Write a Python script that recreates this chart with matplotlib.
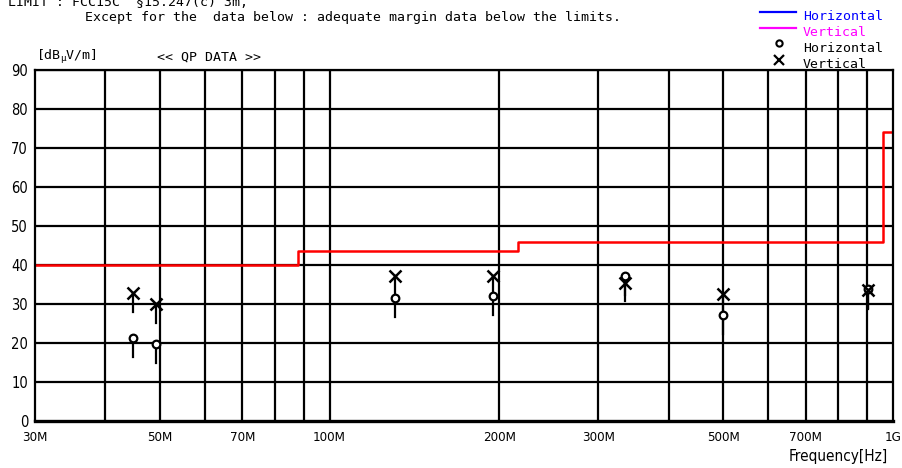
import numpy as np
import matplotlib
matplotlib.use("Agg")
import matplotlib.pyplot as plt

plt.rcParams['font.family'] = ['Liberation Sans Narrow', 'DejaVu Sans']
plt.rcParams['font.stretch'] = 'condensed'

# QP measurement points [MHz] / [dBuV/m]
freq = [44.8, 49.2, 130.5, 195.0, 335.0, 500.0, 903.0]
qp_h = [21.2, 19.7, 31.5, 32.0, 37.1, 27.1, 33.8]
qp_v = [32.7, 29.9, 37.1, 37.1, 35.5, 32.5, 33.5]
stick = 4.8  # tail drawn under each marker

# FCC 15.247(c) limit steps
lim_f = [30, 88, 88, 216, 216, 960, 960, 1000]
lim_v = [40, 40, 43.5, 43.5, 46, 46, 74, 74]

grid_f = [40, 50, 60, 70, 80, 90, 100, 200, 300, 400, 500, 600, 700, 800, 900]
xtick_f = [30, 50, 70, 100, 200, 300, 500, 700, 1000]
xtick_lab = ['30M', '50M', '70M', '100M', '200M', '300M', '500M', '700M', '1G']
yticks = list(range(0, 100, 10))

fig = plt.figure(figsize=(9.02, 4.68), dpi=100)
ax = fig.add_axes([35/902, 1-421/468, (893-35)/902, (421-70)/468])
ax.set_xscale('log')
ax.set_xlim(30, 1000)
ax.set_ylim(0, 90)

for f in grid_f:
    ax.axvline(f, color='black', lw=1.6, zorder=1)
for y in yticks[1:]:
    ax.axhline(y, color='black', lw=1.6, zorder=1)

ax.plot(lim_f, lim_v, color='red', lw=1.8, zorder=2)

for f, h, v in zip(freq, qp_h, qp_v):
    ax.plot([f, f], [h - stick, h], color='black', lw=1.6, zorder=3)
    ax.plot([f, f], [v - stick, v], color='black', lw=1.6, zorder=3)
ax.plot(freq, qp_h, 'o', ms=5.5, mfc='white', mec='black', mew=1.6, zorder=4)
ax.plot(freq, qp_v, 'x', ms=8, color='black', mew=1.8, zorder=4)

for s in ax.spines.values():
    s.set_linewidth(1.6)
ax.spines['bottom'].set_linewidth(2.4)

ax.set_xticks(xtick_f)
ax.set_xticklabels(xtick_lab, fontsize=9.5)
ax.xaxis.set_minor_locator(matplotlib.ticker.NullLocator())
ax.set_yticks(yticks)
ax.set_yticklabels([str(y) for y in yticks], fontsize=10.5)
ax.tick_params(length=0, pad=7)
ax.tick_params(axis='y', pad=5)

mono = ['DejaVu Sans Mono']
fig.text(8/902, 1-3/468, 'LIMIT : FCC15C  §15.247(c) 3m,', fontsize=9.5,
         family=mono, va='center', ha='left')
fig.text(85/902, 1-18/468,
         'Except for the  data below : adequate margin data below the limits.',
         fontsize=9.5, family=mono, va='center', ha='left')
fig.text(36/902, 1-57/468, '[dB$\\mathregular{_\\mu}$V/m]', fontsize=9.5,
         family=mono, va='center', ha='left')
fig.text(157/902, 1-57/468, '<< QP DATA >>', fontsize=9.5, family=mono,
         va='center', ha='left')
fig.text(888/902, 1-457/468, 'Frequency[Hz]', fontsize=11, va='center', ha='right')

# legend block, top right
fig.add_artist(plt.Line2D([760/902, 796/902], [1-12/468]*2, color='blue', lw=1.6))
fig.add_artist(plt.Line2D([760/902, 796/902], [1-28/468]*2, color='magenta', lw=1.6))
fig.add_artist(plt.Line2D([779/902], [1-43/468], marker='o', ms=4.5, mfc='white',
                          mec='black', mew=1.5))
fig.add_artist(plt.Line2D([779/902], [1-60/468], marker='x', ms=7, color='black',
                          mew=1.6))
for yy, txt, c in [(16, 'Horizontal', 'blue'), (32, 'Vertical', 'magenta'),
                   (48, 'Horizontal', 'black'), (64, 'Vertical', 'black')]:
    fig.text(803/902, 1-yy/468, txt, fontsize=9.5, family=mono, color=c,
             va='center', ha='left')

fig.savefig('out.png', dpi=100)
